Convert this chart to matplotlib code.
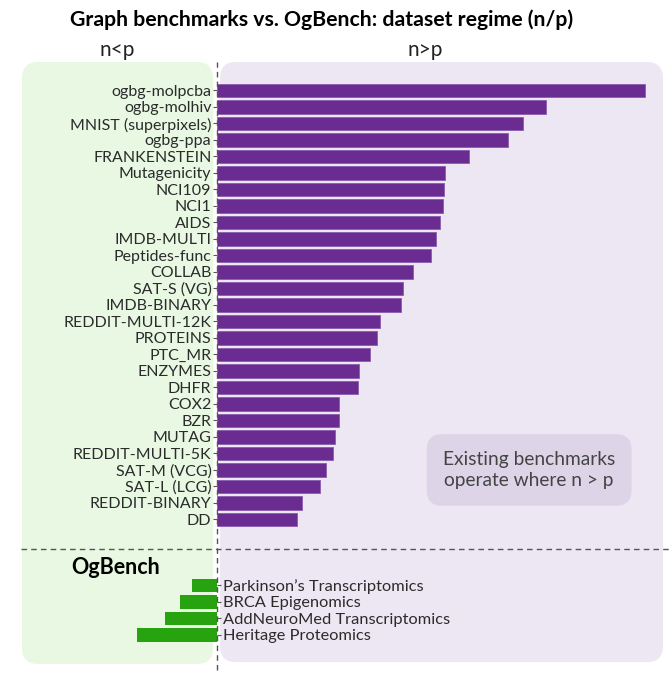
import matplotlib
matplotlib.use("Agg")
import matplotlib.pyplot as plt
from matplotlib.patches import FancyBboxPatch

# log10(n/p) estimates
benchmarks = [
    "ogbg-molpcba", "ogbg-molhiv", "MNIST (superpixels)", "ogbg-ppa", "FRANKENSTEIN",
    "Mutagenicity", "NCI109", "NCI1", "AIDS", "IMDB-MULTI", "Peptides-func", "COLLAB",
    "SAT-S (VG)", "IMDB-BINARY", "REDDIT-MULTI-12K", "PROTEINS", "PTC_MR", "ENZYMES",
    "DHFR", "COX2", "BZR", "MUTAG", "REDDIT-MULTI-5K", "SAT-M (VCG)", "SAT-L (LCG)",
    "REDDIT-BINARY", "DD",
]
bench_vals = [
    4.70, 3.62, 3.36, 3.20, 2.77, 2.51, 2.49, 2.48, 2.45, 2.41, 2.35, 2.15,
    2.04, 2.02, 1.79, 1.76, 1.68, 1.56, 1.55, 1.34, 1.34, 1.30, 1.27, 1.20,
    1.13, 0.93, 0.88,
]
ogbench = ["Parkinson\u2019s Transcriptomics", "BRCA Epigenomics",
           "AddNeuroMed Transcriptomics", "Heritage Proteomics"]
ogbench_vals = [-0.27, -0.41, -0.57, -0.88]

plt.rcParams["font.family"] = ["Lato", "DejaVu Sans"]

W, H = 672, 680
fig = plt.figure(figsize=(W / 100, H / 100), dpi=100)
ax = fig.add_axes([22 / W, 1 - 664 / H, 641 / W, 602 / H])

purple = "#6a2c91"
green = "#27a30f"

y_bench = list(range(len(benchmarks)))
gap = 3
y_og = [len(benchmarks) + gap + i for i in range(len(ogbench))]

ax.barh(y_bench, bench_vals, height=0.8, color=purple, edgecolor="#8a5cb0", linewidth=0.6, zorder=3)
ax.barh(y_og, ogbench_vals, height=0.8, color=green, zorder=3)

ax.set_xlim(-2.143, 4.901)
ax.set_ylim(34.76, -1.727)

# background panels
asp = 641 / 602
ax.add_patch(FancyBboxPatch((0.0, 0.0), 0.298, 1.0, transform=ax.transAxes,
                            boxstyle="round,pad=0,rounding_size=0.025", mutation_aspect=asp,
                            facecolor="#e8f8e3", edgecolor="none", zorder=0, clip_on=False))
ax.add_patch(FancyBboxPatch((0.309, 0.003), 0.691, 0.997, transform=ax.transAxes,
                            boxstyle="round,pad=0,rounding_size=0.025", mutation_aspect=asp,
                            facecolor="#ede7f3", edgecolor="none", zorder=0, clip_on=False))

for s in ["top", "right", "bottom"]:
    ax.spines[s].set_visible(False)
ax.spines["left"].set_position(("data", 0))
ax.spines["left"].set_visible(False)
ax.set_xticks([])
ax.set_yticks(y_bench)
ax.set_yticklabels(benchmarks, fontsize=11.5, color="#2b2b2b")
ax.tick_params(axis="y", length=3, width=0.8, color="#555555", pad=1)

ax2 = ax.twinx()
ax2.set_ylim(ax.get_ylim())
for s in ["top", "left", "bottom"]:
    ax2.spines[s].set_visible(False)
ax2.spines["right"].set_position(("data", 0))
ax2.spines["right"].set_visible(False)
ax2.set_yticks(y_og)
ax2.set_yticklabels(ogbench, fontsize=11.8, color="#2b2b2b")
ax2.tick_params(axis="y", length=3, width=0.8, color="#555555", pad=1)

# dashed separators
ax.axvline(0, ymin=-0.01, ymax=1.0, color="#555555", lw=1, ls=(0, (4, 3)), zorder=4, clip_on=False)
ax.axhline(27.8, xmin=-0.002, xmax=1.02, color="#555555", lw=1, ls=(0, (4, 3)), zorder=4, clip_on=False)

ax.text(-1.11, 28.9, "OgBench", fontsize=15.5, fontweight="bold", ha="center", va="center", color="black")

ax.text(3.43, 23.0, "Existing benchmarks\noperate where n > p", fontsize=13.8, color="#444444",
        ha="center", va="center", linespacing=1.35, zorder=5,
        bbox=dict(boxstyle="round,pad=0.85,rounding_size=0.8", facecolor="#ddd4e8", edgecolor="none"))

fig.text(322 / W, 1 - 20 / H, "Graph benchmarks vs. OgBench: dataset regime (n/p)",
         fontsize=15.3, fontweight="bold", ha="center", va="center")
fig.text(117 / W, 1 - 50 / H, "n<p", fontsize=15, ha="center", va="center", color="#222222")
fig.text(425 / W, 1 - 50 / H, "n>p", fontsize=15, ha="center", va="center", color="#222222")

fig.savefig("out.png", dpi=100)
